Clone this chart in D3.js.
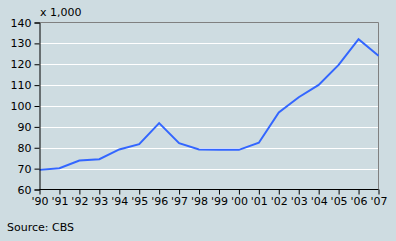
<!DOCTYPE html>
<html>
<head>
<meta charset="utf-8">
<script src="https://cdn.jsdelivr.net/npm/d3@7"></script>
<style>
  html, body { margin: 0; padding: 0; background: #cedce1; }
  svg { display: block; }
  text { font-family: Verdana, "DejaVu Sans", sans-serif; font-size: 11px; fill: #000; }
</style>
</head>
<body>
<svg id="chart" width="396" height="241"></svg>
<script>
const years = ["'90","'91","'92","'93","'94","'95","'96","'97","'98","'99","'00","'01","'02","'03","'04","'05","'06","'07"];
const values = [69.4, 70.2, 73.9, 74.5, 79.2, 81.7, 91.8, 82.2, 79.2, 79.1, 79.0, 82.4, 96.9, 104.2, 110.1, 119.7, 132.0, 124.1];
const yTicks = [60, 70, 80, 90, 100, 110, 120, 130, 140];

const svg = d3.select('#chart');
const plotLeft = 39.5, plotRight = 378.5, plotTop = 22.5, plotBottom = 189.5;

const x = d3.scalePoint().domain(years).range([plotLeft, plotRight]);
const y = d3.scaleLinear().domain([60, 140]).range([plotBottom, plotTop]);

svg.append('rect')
  .attr('width', 396).attr('height', 241)
  .attr('fill', '#cedce1');

// gridlines
svg.append('g')
  .selectAll('line')
  .data(yTicks.filter(d => d > 60 && d < 140))
  .enter().append('line')
  .attr('x1', plotLeft).attr('x2', plotRight)
  .attr('y1', d => Math.round(y(d)) + 0.5).attr('y2', d => Math.round(y(d)) + 0.5)
  .attr('stroke', '#fff').attr('stroke-width', 1);

// top and right frame
svg.append('path')
  .attr('d', 'M' + plotLeft + ',' + plotTop + 'H' + plotRight + 'V' + plotBottom)
  .attr('fill', 'none').attr('stroke', '#808080').attr('stroke-width', 1);

// line
const line = d3.line()
  .x((d, i) => x(years[i]))
  .y(d => y(d));

svg.append('path')
  .datum(values)
  .attr('d', line)
  .attr('fill', 'none')
  .attr('stroke', '#3366ff')
  .attr('stroke-width', 2)
  .attr('stroke-linejoin', 'miter');

// y axis
const yAxis = d3.axisLeft(y).tickValues(yTicks).tickSize(5).tickPadding(3).tickFormat(d3.format('d'));
const gy = svg.append('g').attr('transform', 'translate(' + plotLeft + ',0)').call(yAxis);
gy.select('.domain').attr('stroke', '#000');
gy.selectAll('.tick line').attr('stroke', '#000');
gy.selectAll('.tick text').style('font-size', '11px').attr('fill', '#000');

// x axis
const xAxis = d3.axisBottom(x).tickSize(5).tickPadding(3);
const gx = svg.append('g').attr('transform', 'translate(0,' + plotBottom + ')').call(xAxis);
gx.select('.domain').attr('d', 'M' + plotLeft + ',0H' + plotRight).attr('stroke', '#000');
gx.selectAll('.tick line').attr('stroke', '#000');
gx.selectAll('.tick text').style('font-size', '11px').attr('fill', '#000');

svg.append('text').attr('x', 40).attr('y', 16).text('x 1,000');
svg.append('text').attr('x', 7).attr('y', 231).text('Source: CBS');
</script>
</body>
</html>
